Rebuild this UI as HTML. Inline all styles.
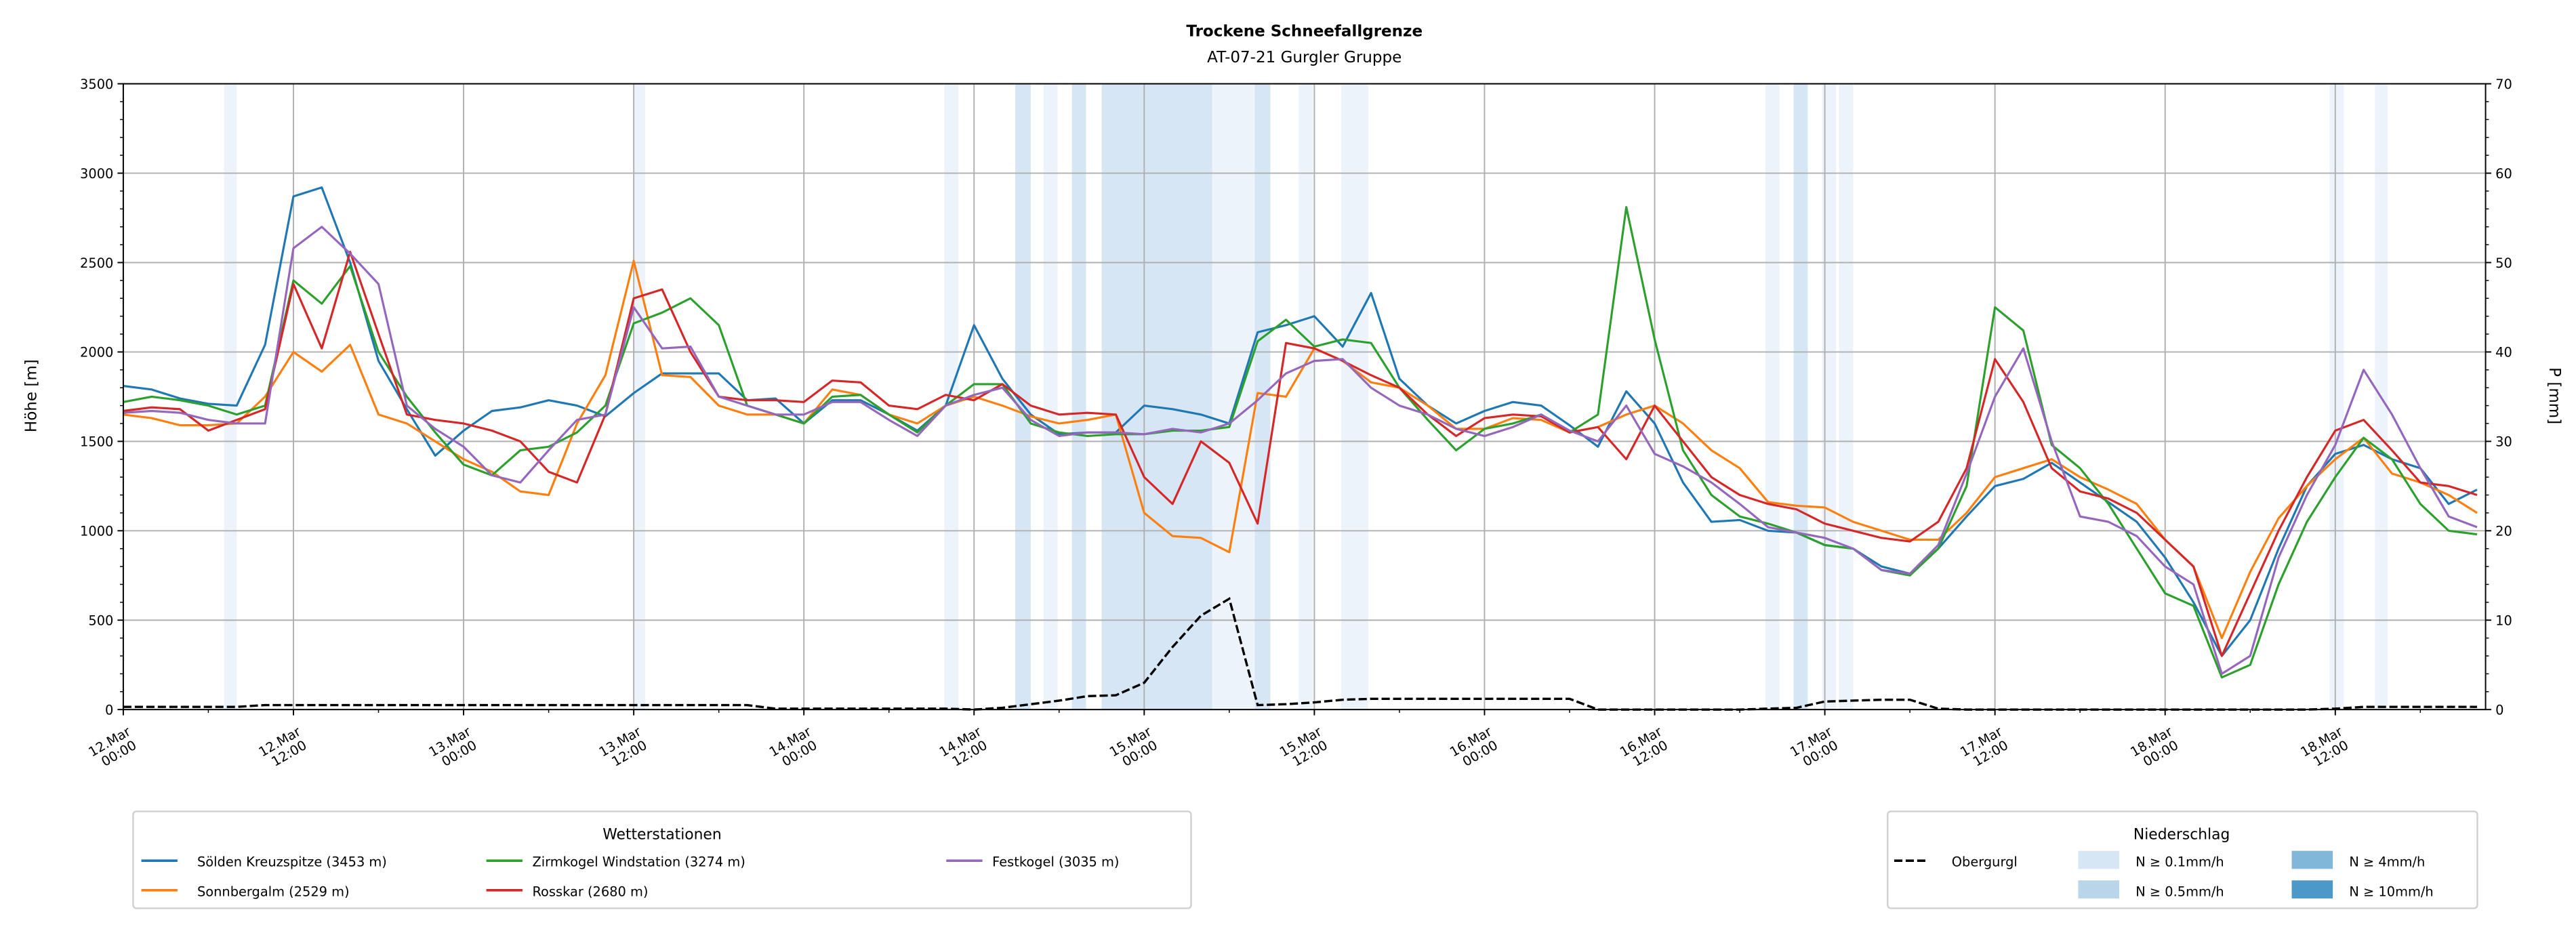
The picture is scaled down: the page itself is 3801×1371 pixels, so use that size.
<!DOCTYPE html>
<html><head><meta charset="utf-8"><style>
html,body{margin:0;padding:0;background:#fff}
svg{display:block}
text{font-family:"DejaVu Sans","Liberation Sans",sans-serif;fill:#000}
</style></head><body>
<svg id="chart" width="3801" height="1371" viewBox="0 0 1568 565.6" xmlns="http://www.w3.org/2000/svg">
<text x="794" y="22" text-anchor="middle" font-size="9.5" font-weight="bold">Trockene Schneefallgrenze</text>
<text x="794" y="38" text-anchor="middle" font-size="9.5">AT-07-21 Gurgler Gruppe</text>
<g id="bands"></g>
<g id="grid"></g>
<g id="series"></g>
<g id="axes"></g>
<text transform="translate(22,241) rotate(-90)" text-anchor="middle" font-size="9.5">Höhe [m]</text>
<text transform="translate(1552,241) rotate(90)" text-anchor="middle" font-size="9.5">P [mm]</text>

<g>
<rect x="81" y="494" width="644" height="59" rx="2" fill="#fff" stroke="#d0d0d0" stroke-width="1"/>
<text x="403" y="511" text-anchor="middle" font-size="9">Wetterstationen</text>
<g><line x1="86" y1="524" x2="108" y2="524" stroke="#1f77b4" stroke-width="1.5"/><text x="120" y="527.5" font-size="8">Sölden Kreuzspitze (3453 m)</text></g>
<g><line x1="86" y1="542" x2="108" y2="542" stroke="#ff7f0e" stroke-width="1.5"/><text x="120" y="545.5" font-size="8">Sonnbergalm (2529 m)</text></g>
<g><line x1="296" y1="524" x2="318" y2="524" stroke="#2ca02c" stroke-width="1.5"/><text x="324" y="527.5" font-size="8">Zirmkogel Windstation (3274 m)</text></g>
<g><line x1="296" y1="542" x2="318" y2="542" stroke="#d62728" stroke-width="1.5"/><text x="324" y="545.5" font-size="8">Rosskar (2680 m)</text></g>
<g><line x1="576" y1="524" x2="598" y2="524" stroke="#9467bd" stroke-width="1.5"/><text x="604" y="527.5" font-size="8">Festkogel (3035 m)</text></g>
</g>

<g>
<rect x="1149" y="494" width="359" height="59" rx="2" fill="#fff" stroke="#d0d0d0" stroke-width="1"/>
<text x="1328" y="511" text-anchor="middle" font-size="9">Niederschlag</text>
<g><line x1="1153" y1="524" x2="1174" y2="524" stroke="#000" stroke-width="1.5" stroke-dasharray="5,2"/><text x="1188" y="527.5" font-size="8">Obergurgl</text></g>
<g><rect x="1265" y="518" width="25" height="11" fill="#d7e6f4"/><text x="1300" y="527.5" font-size="8">N ≥ 0.1mm/h</text></g>
<g><rect x="1265" y="536" width="25" height="11" fill="#b9d5ea"/><text x="1300" y="545.5" font-size="8">N ≥ 0.5mm/h</text></g>
<g><rect x="1395" y="518" width="25" height="11" fill="#81b8da"/><text x="1430" y="527.5" font-size="8">N ≥ 4mm/h</text></g>
<g><rect x="1395" y="536" width="25" height="11" fill="#4b98c9"/><text x="1430" y="545.5" font-size="8">N ≥ 10mm/h</text></g>
</g>
</svg>
<script>
const hours = [0,2,4,6,8,10,12,14,16,18,20,22,24,26,28,30,32,34,36,38,40,42,44,46,48,50,52,54,56,58,60,62,64,66,68,70,72,74,76,78,80,82,84,86,88,90,92,94,96,98,100,102,104,106,108,110,112,114,116,118,120,122,124,126,128,130,132,134,136,138,140,142,144,146,148,150,152,154,156,158,160,162,164,166];
const soelden = [1810,1790,1740,1710,1700,2040,2870,2920,2500,1950,1680,1420,1560,1670,1690,1730,1700,1640,1770,1880,1880,1880,1730,1740,1600,1730,1730,1650,1560,1700,2150,1850,1650,1540,1550,1550,1700,1680,1650,1600,2110,2150,2200,2030,2330,1850,1700,1600,1670,1720,1700,1590,1470,1780,1600,1270,1050,1060,1000,990,920,900,800,760,900,1080,1250,1290,1380,1270,1160,1050,850,600,300,500,900,1250,1430,1480,1400,1350,1150,1230];
const sonnbergalm = [1650,1630,1590,1590,1600,1750,2000,1890,2040,1650,1600,1500,1400,1330,1220,1200,1600,1870,2510,1870,1860,1700,1650,1650,1600,1790,1760,1650,1600,1700,1750,1700,1640,1600,1620,1650,1100,970,960,880,1770,1750,2020,1950,1830,1800,1700,1570,1570,1630,1620,1550,1580,1650,1700,1600,1450,1350,1160,1140,1130,1050,1000,950,950,1100,1300,1350,1400,1300,1230,1150,950,800,400,770,1070,1250,1400,1520,1320,1270,1200,1100];
const zirmkogel = [1720,1750,1730,1700,1650,1700,2400,2270,2480,2000,1750,1550,1370,1310,1450,1470,1550,1700,2160,2220,2300,2150,1700,1650,1600,1750,1760,1650,1550,1700,1820,1820,1600,1550,1530,1540,1540,1560,1560,1580,2060,2180,2030,2070,2050,1800,1620,1450,1570,1600,1650,1550,1650,2810,2070,1450,1200,1080,1040,990,920,900,780,750,900,1250,2250,2120,1480,1350,1150,900,650,580,180,250,700,1050,1300,1520,1400,1150,1000,980];
const rosskar = [1670,1690,1680,1560,1620,1680,2380,2020,2560,2100,1650,1620,1600,1560,1500,1330,1270,1650,2300,2350,2000,1750,1730,1730,1720,1840,1830,1700,1680,1760,1730,1820,1700,1650,1660,1650,1300,1150,1500,1380,1040,2050,2020,1950,1870,1800,1650,1530,1630,1650,1640,1550,1580,1400,1700,1500,1300,1200,1150,1120,1040,1000,960,940,1050,1350,1960,1720,1350,1220,1180,1100,950,800,300,650,1000,1300,1560,1620,1450,1270,1250,1200];
const festkogel = [1660,1670,1660,1620,1600,1600,2580,2700,2550,2380,1700,1570,1470,1310,1270,1450,1620,1650,2250,2020,2030,1750,1700,1650,1650,1720,1720,1620,1530,1700,1760,1800,1620,1530,1550,1550,1540,1570,1550,1600,1730,1880,1950,1960,1800,1700,1650,1570,1530,1580,1650,1560,1500,1700,1430,1360,1270,1150,1020,990,960,900,780,760,920,1320,1750,2020,1500,1080,1050,970,800,700,200,300,850,1200,1480,1900,1650,1350,1080,1020];
const obergurgl = [0.3,0.3,0.3,0.3,0.3,0.5,0.5,0.5,0.5,0.5,0.5,0.5,0.5,0.5,0.5,0.5,0.5,0.5,0.5,0.5,0.5,0.5,0.5,0.1,0.1,0.1,0.1,0.1,0.1,0.1,0,0.2,0.6,1.0,1.5,1.6,3,7,10.5,12.4,0.5,0.6,0.8,1.1,1.2,1.2,1.2,1.2,1.2,1.2,1.2,1.2,0,0,0,0,0,0,0.1,0.2,0.9,1,1.1,1.1,0.1,0,0,0,0,0,0,0,0,0,0,0,0,0,0.1,0.3,0.3,0.3,0.3,0.3];
const bandStart = [7.1,36.0,57.9,62.9,64.9,66.9,69.0,76.8,79.8,82.9,85.9,115.8,117.8,119.8,121.0,155.6,158.8];
const bandEnd   = [8.0,36.8,58.9,64.0,65.9,67.9,76.8,79.8,80.9,83.9,87.8,116.8,118.8,120.8,122.0,156.6,159.7];
const bandLevel = [1,1,1,2,1,2,2,1,2,1,1,1,2,1,1,1,1];
const yTicks = [0,500,1000,1500,2000,2500,3000,3500];
const y2Ticks = [0,10,20,30,40,50,60,70];
const xTickLabels = [["12.Mar","00:00"],["12.Mar","12:00"],["13.Mar","00:00"],["13.Mar","12:00"],["14.Mar","00:00"],["14.Mar","12:00"],["15.Mar","00:00"],["15.Mar","12:00"],["16.Mar","00:00"],["16.Mar","12:00"],["17.Mar","00:00"],["17.Mar","12:00"],["18.Mar","00:00"],["18.Mar","12:00"]];

const NS="http://www.w3.org/2000/svg";
const L=75,R=1513,T=51,B=432,HMAX=166.6;
const xs=h=>L+(R-L)*h/HMAX;
const ys=v=>B-(B-T)*v/3500;
const ys2=v=>B-(B-T)*v/70;
function mk(tag,attrs,parent){const e=document.createElementNS(NS,tag);for(const k in attrs)e.setAttribute(k,attrs[k]);parent.appendChild(e);return e;}
const gB=document.getElementById('bands'),gG=document.getElementById('grid'),gS=document.getElementById('series'),gA=document.getElementById('axes');
const bandColors={1:'#edf3fa',2:'#d6e6f4'};
bandStart.forEach((s,i)=>{
  const r=mk('rect',{x:xs(s),y:T,width:xs(bandEnd[i])-xs(s),height:B-T,fill:bandColors[bandLevel[i]]},gB);
  
  
});
yTicks.forEach(v=>{
  const l=mk('line',{x1:L,x2:R,y1:ys(v),y2:ys(v),stroke:'#b0b0b0','stroke-width':0.8},gG);
  
  
});
xTickLabels.forEach((lab,i)=>{
  const x=xs(i*12);
  const l=mk('line',{x1:x,x2:x,y1:T,y2:B,stroke:'#b0b0b0','stroke-width':0.8},gG);
  
  
});
const series=[[soelden,'#1f77b4','soelden-line'],[sonnbergalm,'#ff7f0e','sonnbergalm-line'],[zirmkogel,'#2ca02c','zirmkogel-line'],[rosskar,'#d62728','rosskar-line'],[festkogel,'#9467bd','festkogel-line']];
series.forEach(([d,c,n])=>{
  const p=mk('polyline',{points:d.map((v,i)=>xs(hours[i])+','+ys(v)).join(' '),fill:'none',stroke:c,'stroke-width':1.3,'stroke-linejoin':'round'},gS);
  
  
});
const ob=mk('polyline',{points:obergurgl.map((v,i)=>xs(hours[i])+','+ys2(v)).join(' '),fill:'none',stroke:'#000','stroke-width':1.4,'stroke-dasharray':'5,2'},gS);


mk('rect',{x:L,y:T,width:R-L,height:B-T,fill:'none',stroke:'#000','stroke-width':0.8},gA);
yTicks.forEach(v=>{
  mk('line',{x1:L-3.5,x2:L,y1:ys(v),y2:ys(v),stroke:'#000','stroke-width':0.8},gA);
  const t=mk('text',{x:L-6,y:ys(v)+3,'text-anchor':'end','font-size':8},gA);t.textContent=v;
  
  
});
for(let v=0;v<=3500;v+=100){if(v%500)mk('line',{x1:L-2,x2:L,y1:ys(v),y2:ys(v),stroke:'#000','stroke-width':0.6},gA);}
y2Ticks.forEach(v=>{
  mk('line',{x1:R,x2:R+3.5,y1:ys2(v),y2:ys2(v),stroke:'#000','stroke-width':0.8},gA);
  const t=mk('text',{x:R+6,y:ys2(v)+3,'font-size':8},gA);t.textContent=v;
  
  
});
for(let v=0;v<=70;v+=2){if(v%10)mk('line',{x1:R,x2:R+2,y1:ys2(v),y2:ys2(v),stroke:'#000','stroke-width':0.6},gA);}
xTickLabels.forEach((lab,i)=>{
  const x=xs(i*12);
  mk('line',{x1:x,x2:x,y1:B,y2:B+3.5,stroke:'#000','stroke-width':0.8},gA);
  mk('line',{x1:xs(i*12+6),x2:xs(i*12+6),y1:B,y2:B+2,stroke:'#000','stroke-width':0.6},gA);
  const t=mk('text',{'font-size':8,'text-anchor':'end',transform:`translate(${x+5},${B+15}) rotate(-30)`},gA);
  
  
  const a=mk('tspan',{x:0,y:0},t);a.textContent=lab[0];
  const b=mk('tspan',{x:-1,dy:9},t);b.textContent=lab[1];
});
</script>
</body></html>
